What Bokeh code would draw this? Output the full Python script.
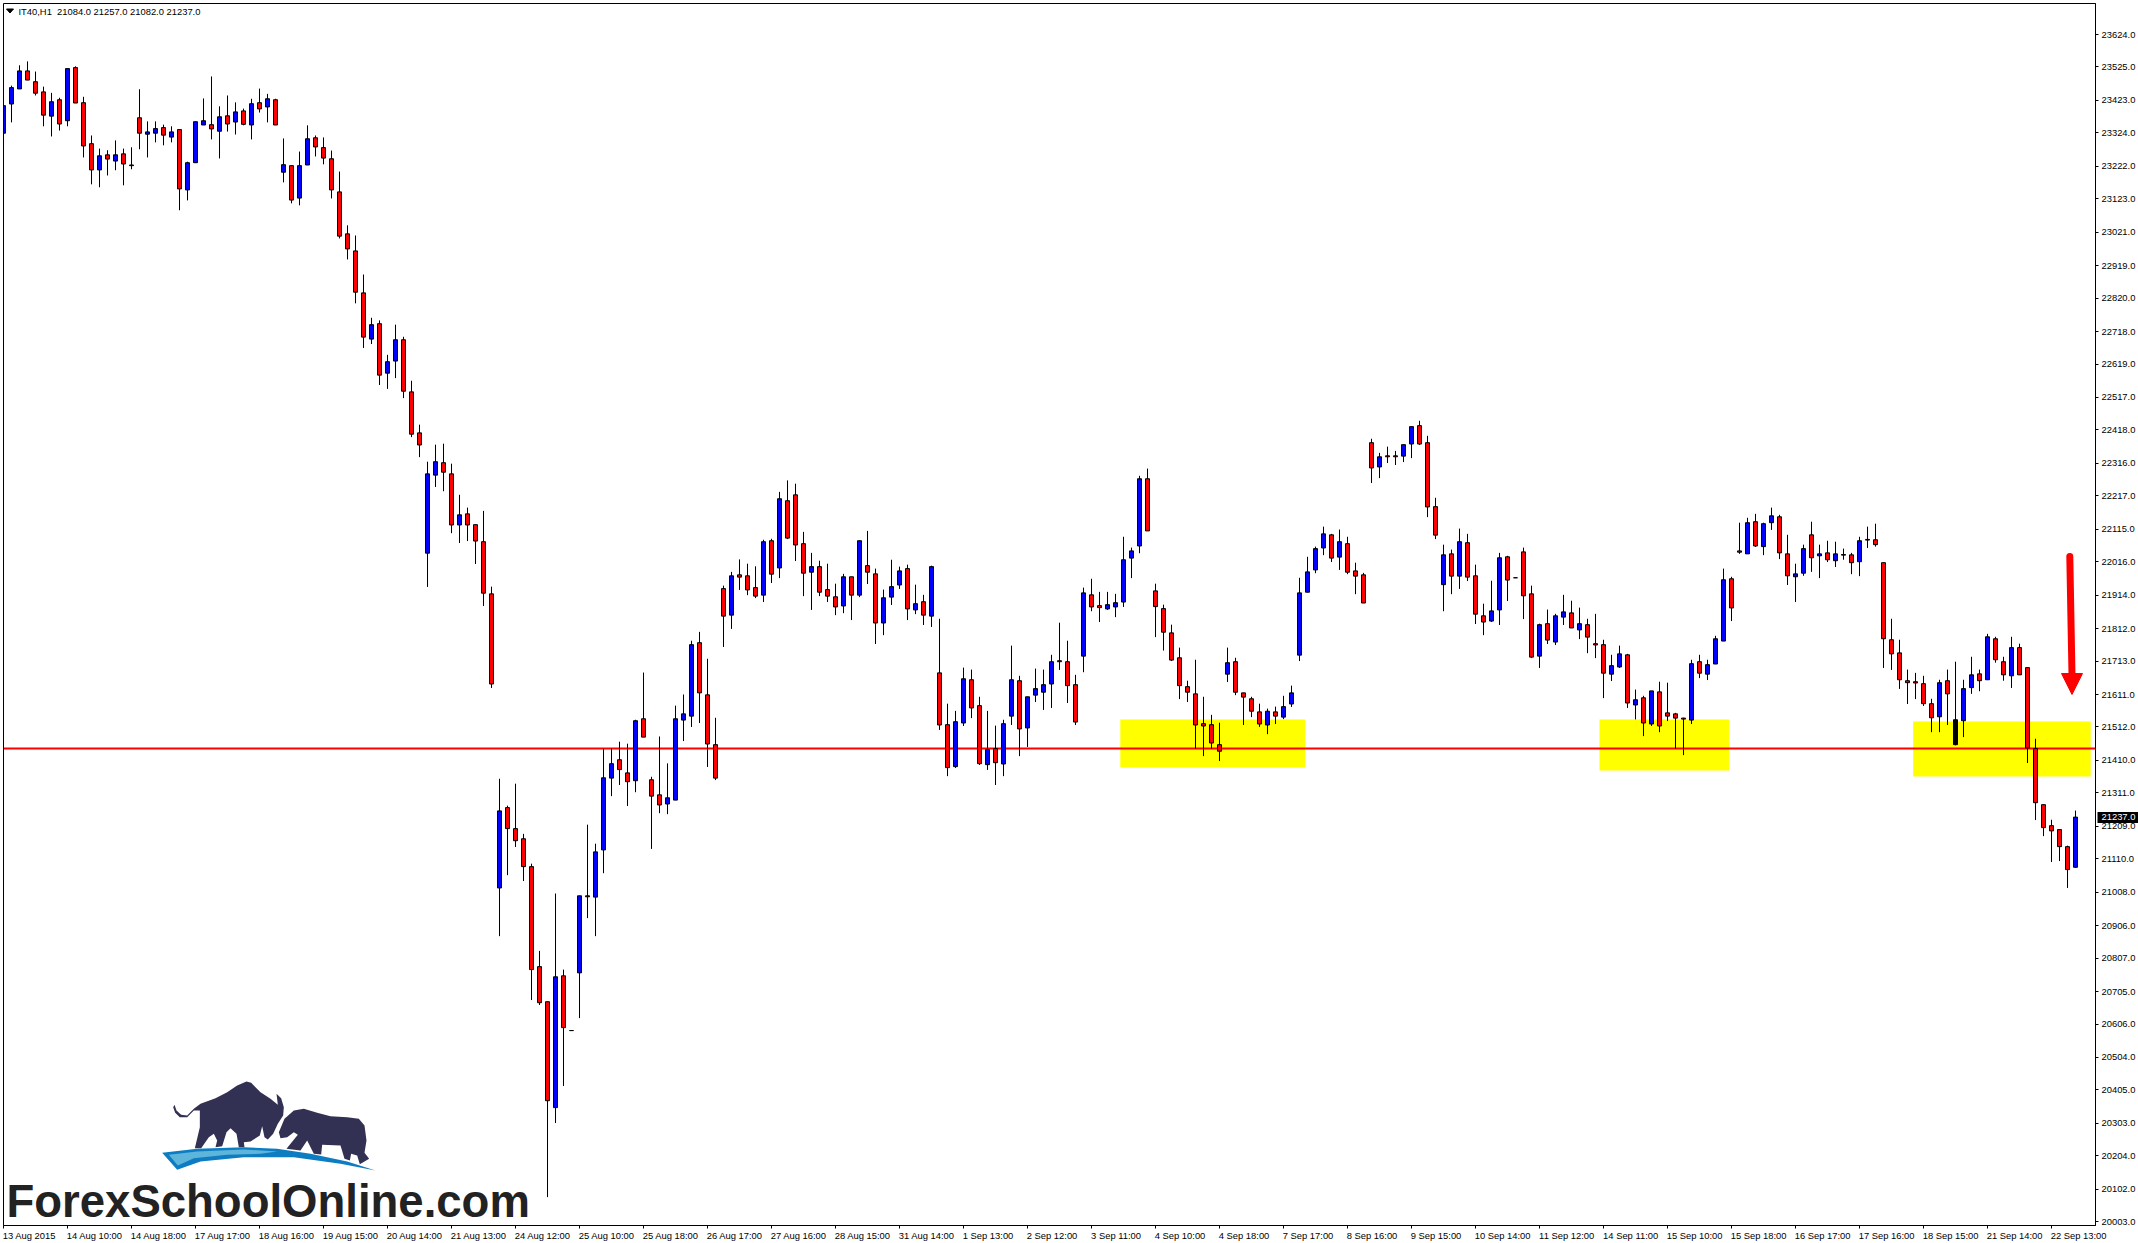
from bokeh.plotting import figure
from bokeh.models import (ColumnDataSource, Range1d, LinearAxis, FixedTicker, NumeralTickFormatter, Label)
from bokeh.embed import file_html
from bokeh.resources import INLINE

opens = [
23323,23412,23458,23513,23480,23449,23375,23425,23361,23523,
23416,23291,23211,23257,23238,23260,23226,23370,23320,23323,
23340,23311,23334,23150,23233,23348,23349,23329,23376,23357,
23391,23348,23416,23403,23425,23204,23224,23125,23226,23309,
23279,23245,23144,23016,22964,22836,22695,22742,22591,22628,
22693,22534,22409,22042,22280,22318,22284,22128,22162,22129,
22077,21918,21021,21266,21202,21171,21086,20781,20674,20351,
20753,20586,20762,20997,20993,21137,21356,21412,21372,21348,
21537,21351,21305,21277,21289,21533,21545,21769,21610,21458,
21934,21853,21976,21973,21937,21914,22080,21997,22202,22220,
22071,21984,22001,21931,21909,21881,21970,21914,22004,21979,
21829,21908,21945,21995,21869,21894,21850,21677,21519,21391,
21524,21656,21577,21397,21446,21399,21545,21653,21509,21609,
21618,21643,21714,21711,21641,21728,21915,21882,21872,21878,
21893,22027,22064,22269,21927,21873,21799,21723,21635,21613,
21522,21519,21458,21673,21711,21616,21598,21558,21518,21558,
21542,21582,21731,21923,21991,22058,22098,22030,22071,21988,
21976,22379,22305,22339,22339,22338,22375,22431,22379,22184,
21946,22040,21972,22074,21973,21851,21835,21869,22031,21967,
22046,21918,21728,21827,21771,21847,21860,21808,21824,21766,
21763,21673,21695,21732,21579,21601,21521,21619,21555,21552,
21539,21533,21711,21673,21704,21774,21964,22049,22040,22138,
22062,22135,22153,22040,21970,21981,22098,22034,22043,22019,
22038,22037,22016,22084,22083,22013,21778,21738,21653,21650,
21644,21583,21543,21653,21458,21531,21632,21674,21656,21781,
21711,21668,21754,21693,21446,21275,21211,21199,21147,21084]

closes = [
23407,23462,23513,23485,23445,23378,23419,23351,23520,23415,
23284,23211,23254,23244,23257,23229,23224,23323,23327,23337,
23317,23327,23153,23233,23358,23361,23336,23373,23351,23388,
23350,23413,23397,23428,23348,23227,23119,23224,23306,23281,
23247,23150,23009,22970,22838,22701,22739,22585,22626,22693,
22536,22405,22372,22284,22321,22289,22128,22159,22128,22079,
21920,21643,21256,21202,21165,21086,20772,20671,20372,20750,
20595,20586,20997,20994,21131,21357,21400,21382,21345,21531,
21481,21301,21274,21296,21537,21552,21763,21616,21460,21356,
21850,21973,21969,21930,21911,22077,21978,22208,22088,22067,
21981,22001,21923,21911,21878,21970,21914,22080,21984,21829,
21906,21940,21988,21872,21888,21853,22001,21518,21388,21528,
21659,21570,21400,21443,21403,21522,21656,21506,21604,21629,
21641,21711,21711,21638,21527,21921,21878,21876,21885,21891,
22022,22049,22269,22110,21879,21801,21716,21638,21618,21518,
21515,21463,21438,21708,21618,21603,21560,21521,21560,21545,
21574,21616,21921,21985,22056,22101,22027,22077,21984,21972,
21890,22302,22336,22336,22336,22373,22428,22375,22183,22097,
22037,21972,22077,21969,21856,21832,21866,22028,21960,21967,
21912,21725,21824,21777,21851,21863,21814,21827,21786,21762,
21676,21699,21735,21585,21595,21524,21622,21515,21545,21539,
21536,21705,21676,21702,21781,21961,21875,22045,22135,22064,
22132,22156,22043,21973,21979,22056,22028,22040,22022,22040,
22036,22013,22080,22082,22068,21781,21735,21656,21647,21646,
21583,21540,21647,21613,21534,21629,21671,21653,21787,21717,
21671,21754,21671,21448,21281,21205,21195,21147,21077,21237]

highs = [
23423,23468,23530,23542,23511,23465,23446,23431,23520,23527,
23434,23316,23276,23271,23301,23276,23280,23457,23359,23359,
23349,23344,23334,23236,23358,23429,23496,23405,23438,23417,
23398,23428,23459,23443,23428,23307,23224,23267,23347,23316,
23310,23270,23206,23042,23011,22892,22760,22752,22647,22739,
22702,22568,22434,22321,22373,22376,22315,22220,22181,22129,
22171,21940,21354,21272,21339,21186,21095,20829,20674,21004,
20772,20586,20997,21214,21156,21445,21447,21467,21461,21534,
21678,21360,21483,21401,21577,21611,21775,21802,21720,21540,
21943,21985,22023,22010,22002,22083,22086,22229,22264,22254,
22107,22043,22019,22010,21949,21979,21970,22080,22110,21995,
21931,22022,22001,22007,21946,21915,22004,21842,21583,21561,
21693,21687,21604,21561,21516,21534,21760,21668,21604,21690,
21687,21732,21830,21775,21671,21937,21964,21924,21924,21918,
22092,22059,22278,22300,21949,21885,21824,21754,21653,21717,
21604,21549,21525,21754,21723,21616,21604,21583,21568,21574,
21607,21638,21967,22031,22062,22123,22101,22114,22092,22013,
21982,22391,22348,22367,22354,22373,22428,22446,22400,22211,
22068,22053,22117,22101,22007,21888,21958,22043,22034,21967,
22059,21943,21827,21870,21857,21915,21897,21876,21842,21857,
21778,21732,21760,21735,21626,21607,21622,21650,21647,21555,
21540,21717,21732,21717,21790,21995,21970,22135,22150,22162,
22135,22181,22159,22098,22010,22068,22138,22068,22080,22077,
22056,22043,22092,22123,22132,22013,21842,21778,21687,21677,
21668,21598,21656,21687,21711,21656,21726,21687,21796,21787,
21726,21787,21766,21693,21476,21275,21229,21199,21150,21257]

lows = [
23247,23356,23458,23485,23438,23344,23313,23331,23344,23415,
23249,23167,23158,23194,23210,23164,23213,23274,23249,23295,
23286,23295,23088,23118,23232,23348,23304,23246,23328,23319,
23347,23304,23386,23356,23348,23173,23109,23103,23226,23252,
23228,23124,23002,22938,22804,22668,22680,22555,22543,22576,
22515,22396,22335,21939,22244,22231,22103,22073,22079,22009,
21881,21631,20874,21060,21146,21042,20679,20664,20078,20304,
20417,20586,20624,20929,20874,21066,21301,21335,21271,21313,
21481,21140,21249,21246,21289,21469,21512,21524,21390,21350,
21756,21811,21930,21914,21905,21893,21951,21966,22085,22018,
21911,21869,21911,21893,21853,21859,21838,21908,21948,21765,
21792,21884,21933,21838,21856,21823,21817,21503,21362,21387,
21515,21539,21396,21381,21335,21362,21518,21423,21451,21588,
21564,21570,21686,21585,21518,21679,21865,21832,21869,21847,
21878,21966,22042,22110,21786,21745,21713,21597,21588,21445,
21423,21445,21408,21649,21609,21518,21542,21512,21490,21521,
21536,21573,21713,21923,21981,22036,22015,21991,21978,21917,
21890,22256,22271,22317,22311,22320,22332,22372,22152,22085,
21865,21917,21933,21957,21826,21792,21832,21823,21896,21967,
21841,21722,21692,21765,21762,21823,21814,21780,21737,21722,
21600,21652,21692,21570,21535,21484,21515,21496,21530,21445,
21426,21521,21661,21655,21704,21774,21835,22040,22040,22061,
22036,22113,22024,21945,21893,21973,21985,21966,22015,22000,
22022,21978,21972,22058,22062,21692,21686,21628,21582,21597,
21576,21496,21496,21518,21456,21481,21613,21621,21656,21708,
21653,21631,21671,21402,21228,21179,21100,21103,21021,21082]

black_bodies = [244]

price_ticks = [23624,23525,23423,23324,23222,23123,23021,22919,22820,22718,22619,22517,22418,
               22316,22217,22115,22016,21914,21812,21713,21611,21512,21410,21311,21209,21110,
               21008,20906,20807,20705,20606,20504,20405,20303,20204,20102,20003]

time_labels = ["13 Aug 2015","14 Aug 10:00","14 Aug 18:00","17 Aug 17:00","18 Aug 16:00","19 Aug 15:00",
               "20 Aug 14:00","21 Aug 13:00","24 Aug 12:00","25 Aug 10:00","25 Aug 18:00","26 Aug 17:00",
               "27 Aug 16:00","28 Aug 15:00","31 Aug 14:00","1 Sep 13:00","2 Sep 12:00","3 Sep 11:00",
               "4 Sep 10:00","4 Sep 18:00","7 Sep 17:00","8 Sep 16:00","9 Sep 15:00","10 Sep 14:00",
               "11 Sep 12:00","14 Sep 11:00","15 Sep 10:00","15 Sep 18:00","16 Sep 17:00","17 Sep 16:00",
               "18 Sep 15:00","21 Sep 14:00","22 Sep 13:00"]
BARS_PER_LABEL = 8

support_price = 21446
zones_left = [139.6, 199.5, 238.7]
zones_right = [162.7, 215.7, 260.9]
zones_top = [21535, 21535, 21529]
zones_bottom = [21388, 21379, 21361]

header_text = "IT40,H1\u00a0\u00a021084.0 21257.0 21082.0 21237.0"
last_price = 21237
brand_text = "ForexSchoolOnline.com"

# scale helpers for the annotations (picture pixel -> data)
def X(px): return (px - 3.0) / 8.0
def Y(py): return 23727.7 - 3.05 * py

FONT_PX = 9.4
WIDTH, HEIGHT = 2138, 1243
p = figure(width=WIDTH, height=HEIGHT, output_backend="svg", toolbar_location=None,
           x_range=Range1d(X(3), X(2095)), y_range=Range1d(Y(1225), Y(3)),
           x_axis_type=None, y_axis_type=None,
           min_border_left=3, min_border_right=43, min_border_top=3, min_border_bottom=18,
           background_fill_color="white", border_fill_color="white",
           outline_line_color="black", outline_line_width=1)
p.grid.visible = False

right = LinearAxis(ticker=FixedTicker(ticks=price_ticks), formatter=NumeralTickFormatter(format="0.0"),
                   major_tick_out=3, major_tick_in=0, minor_tick_out=0, minor_tick_in=0,
                   axis_line_color="black", major_tick_line_color="black",
                   major_label_standoff=3, major_label_text_font="Liberation Sans",
                   major_label_text_font_size=f"{FONT_PX}px", major_label_text_color="black")
p.add_layout(right, "right")

# last-price tag: an outer axis whose single tick, drawn back over the first axis, is the black box
tag = LinearAxis(ticker=FixedTicker(ticks=[last_price]), formatter=NumeralTickFormatter(format="0.0"),
                 major_tick_out=0, major_tick_in=41, minor_tick_out=0, minor_tick_in=0,
                 axis_line_color=None, major_tick_line_color="black", major_tick_line_width=11,
                 major_label_standoff=-37, major_label_text_font="Liberation Sans",
                 major_label_text_font_size=f"{FONT_PX}px", major_label_text_color="white")
p.add_layout(tag, "right")

tick_pos = [i * BARS_PER_LABEL for i in range(len(time_labels))]
bottom = LinearAxis(ticker=FixedTicker(ticks=tick_pos),
                    major_label_overrides={t: "" for t in tick_pos},
                    major_label_text_font_size="1px", major_label_standoff=0,
                    major_tick_out=3, major_tick_in=0, minor_tick_out=0, minor_tick_in=0,
                    axis_line_color="black", major_tick_line_color="black")
p.add_layout(bottom, "below")

# second bottom axis: carries the date texts, each placed so that its left edge sits on its tick
WIDTHS = {" ": .278, ":": .278, "A": .667, "S": .667}
def text_bars(s):
    return sum(WIDTHS.get(ch, .556) for ch in s) * FONT_PX / 8.0
label_pos = [t + text_bars(s) / 2 - 0.1 for t, s in zip(tick_pos, time_labels)]
bottom2 = LinearAxis(ticker=FixedTicker(ticks=label_pos),
                     major_label_overrides=dict(zip(label_pos, time_labels)),
                     major_tick_out=0, major_tick_in=0, minor_tick_out=0, minor_tick_in=0,
                     axis_line_color=None, major_tick_line_color=None, major_label_standoff=1,
                     major_label_text_font="Liberation Sans", major_label_text_font_size=f"{FONT_PX}px",
                     major_label_text_color="black")
p.add_layout(bottom2, "below")

# zones and support line
p.quad(left=zones_left, right=zones_right, top=zones_top, bottom=zones_bottom,
       fill_color="#ffff00", line_color=None)
p.hspan(y=[support_price], line_color="#ff0000", line_width=2)

# candles
n = len(opens)
colors = ["#0000ff" if c >= o else "#ff0000" for o, c in zip(opens, closes)]
for i in black_bodies:
    colors[i] = "#000000"
src = ColumnDataSource(dict(x=list(range(n)), o=opens, c=closes, h=highs, l=lows, color=colors))
p.segment(x0="x", x1="x", y0="l", y1="h", source=src, line_color="black", line_width=1)
p.vbar(x="x", top="o", bottom="c", width=0.5, source=src, fill_color="color", line_color="black", line_width=1)

# arrow
p.line([X(2069.3), X(2071.5)], [Y(556), Y(675)], line_color="#ff0000", line_width=7, line_cap="round")
p.patch([X(2061), X(2082), X(2071.5)], [Y(673), Y(673), Y(694)], fill_color="#ff0000", line_color="#ff0000")

# header triangle
p.patch([X(6), X(13), X(9.5)], [Y(8.5), Y(8.5), Y(12.5)], fill_color="black", line_color="black")

# logo
def lx(z): return [X(160 + v / 3) for v in z]
def ly(z): return [Y(1075 + v / 3) for v in z]
bull = [(42,88),(48,105),(62,118),(80,120),(100,100),(120,85),(165,68),(200,50),(230,30),(258,18),(272,22),
        (300,50),(330,70),(352,88),(348,55),(362,68),(370,95),(368,120),(352,145),(338,175),(322,192),(312,185),
        (305,152),(298,180),(270,198),(250,200),(252,215),(235,215),(228,175),(210,158),(198,170),(185,212),
        (165,215),(170,195),(160,175),(145,185),(122,218),(103,218),(118,155),(118,105),(100,105),(80,125),
        (58,125),(44,112),(38,95)]
bear = [(355,170),(372,130),(400,105),(430,100),(470,112),(510,122),(560,125),(595,130),(612,150),(618,195),
        (612,232),(626,250),(598,266),(590,240),(572,235),(568,255),(552,250),(540,210),(485,208),(482,237),
        (460,235),(440,195),(420,225),(378,220),(412,178),(400,170),(380,185),(360,188)]
swoosh = [(5,232),(110,220),(250,215),(350,220),(450,235),(560,258),(645,285),(540,265),(400,245),(250,245),
          (120,258),(50,283)]
swoosh_in = [(25,238),(110,228),(250,222),(350,228),(300,235),(200,238),(100,248),(52,270)]
for shape, col in ((bull, "#333153"), (bear, "#333153"), (swoosh, "#0d7cc0"), (swoosh_in, "#5db5dc")):
    p.patch(lx([a for a, _ in shape]), ly([b for _, b in shape]), fill_color=col, line_color=None)

# texts
p.add_layout(Label(x=X(18), y=Y(10.5), text=header_text, text_align="left", text_baseline="middle",
                   text_font="Liberation Sans", text_font_size=f"{FONT_PX}px", text_color="black"))
p.add_layout(Label(x=X(6), y=Y(1201), text=brand_text, text_align="left", text_baseline="middle",
                   text_font="Liberation Sans", text_font_style="bold", text_font_size="45.5px",
                   text_color="#222222"))

open("out.html", "w").write(file_html(p, INLINE))
